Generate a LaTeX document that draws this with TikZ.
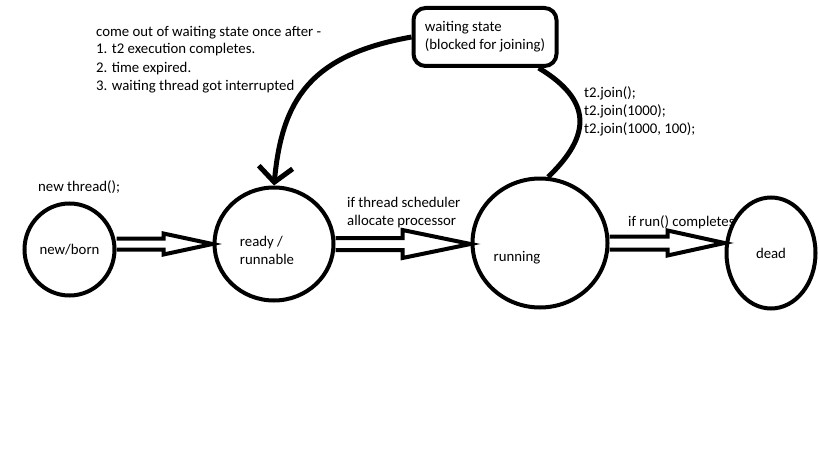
\documentclass[tikz,border=0pt]{standalone}
\usepackage{fontspec}
\setmainfont{Carlito}
\usetikzlibrary{shapes.geometric,arrows.meta,calc}

\tikzset{
  state/.style={draw, ellipse, line width=4pt, inner sep=0pt, align=left},
  txt/.style={anchor=base west, inner sep=0pt, align=left},
  hollow/.style n args={3}{line width=4pt, line join=miter,
    to path={let \p1=(\tikztostart), \p2=(\tikztotarget) in
      (\x1,\y1+#2) -- (\x2-#1,\y1+#2) -- (\x2-#1,\y1+#3) -- (\x2,\y1)
      -- (\x2-#1,\y1-#3) -- (\x2-#1,\y1-#2) -- (\x1,\y1-#2)}}
}

\begin{document}
\begin{tikzpicture}[x=1pt, y=-1pt, font=\fontsize{14.8}{18}\selectfont]
\useasboundingbox (0,0) rectangle (819,460);

% states
\node[state, minimum width=90pt, minimum height=92pt] (born) at (69.5,249.5) {new/born};
\node[state, minimum width=119pt, minimum height=113pt,
      label={[xshift=-7pt, yshift=-6pt, align=left]center:ready /\\runnable}] (ready) at (274,244) {};
\node[state, minimum width=135pt, minimum height=129pt,
      label={[xshift=-23pt, yshift=-15pt]center:running}] (running) at (540,243) {};
\node[txt] (done) at (628,226) {if run() completes};
\node[state, minimum width=89pt, minimum height=111pt] (dead) at (771,253) {dead};
\node[draw, rounded corners=12pt, line width=4pt, minimum width=143pt, minimum height=58pt,
      align=left] (waiting) at (485,37) {waiting state\\(blocked for joining)};

% notes (anchored at the last line)
\node[txt] (note) at (96,90) {come out of waiting state once after -\\1. t2 execution completes.\\2. time expired.\\3. waiting thread got interrupted};
\node[txt] (create) at (38,191) {new thread();};
\node[txt] (sched) at (347,225) {if thread scheduler\\allocate processor};
\node[txt] (joins) at (584,133) {t2.join();\\t2.join(1000);\\t2.join(1000, 100);};

% transitions
\draw[hollow={49pt}{5.5pt}{10.5pt}] (born.east |- ready.west) to (ready.west);
\draw[hollow={68pt}{6pt}{14pt}] (ready.east) to (running.west);
\draw[hollow={57pt}{6.5pt}{12.5pt}] (running.east) to (dead.west |- running.east);
\draw[line width=5pt, -{Straight Barb[length=15pt, width=34pt]}] (waiting.west) .. controls (310,55) and (282,100) .. (ready.north);
\draw[line width=5pt] (waiting.-30) .. controls (592,100) and (592,135) .. (running.83);
\end{tikzpicture}
\end{document}
